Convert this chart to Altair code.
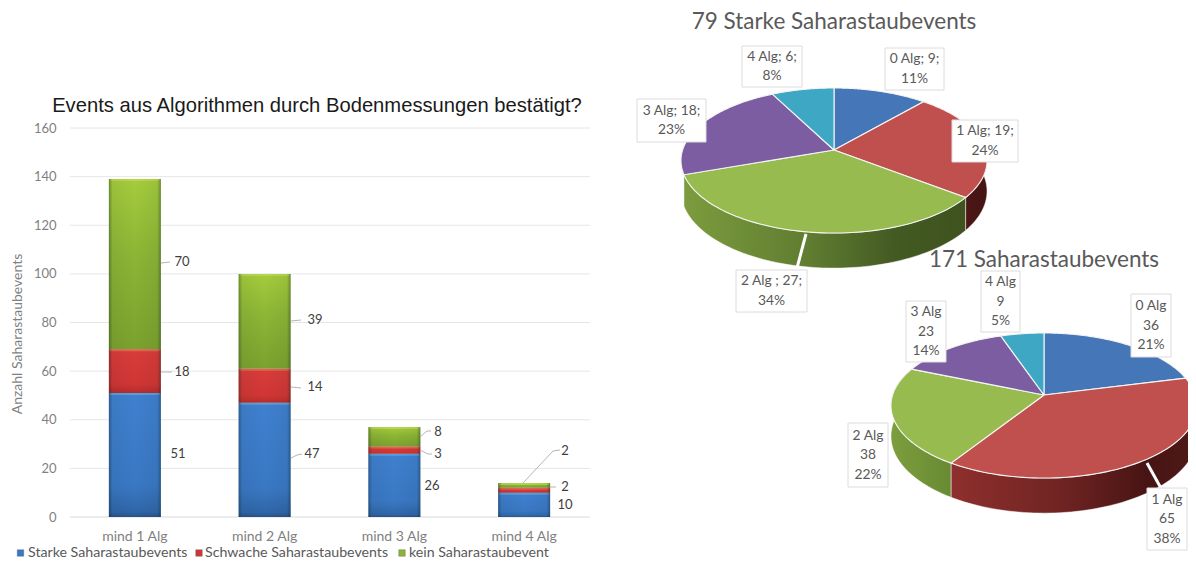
import altair as alt
import numpy as np
import pandas as pd

# ---- values ----
bar_categories = ["mind 1 Alg", "mind 2 Alg", "mind 3 Alg", "mind 4 Alg"]
strong = [51, 47, 26, 10]
weak = [18, 14, 3, 2]
none_ = [70, 39, 8, 2]
series_names = ["Starke Saharastaubevents", "Schwache Saharastaubevents", "kein Saharastaubevent"]
y_ticks = [0, 20, 40, 60, 80, 100, 120, 140, 160]

pie1_values = [9, 19, 27, 18, 6]
pie1_labels = ["0 Alg; 9;\n11%", "1 Alg; 19;\n24%", "2 Alg ; 27;\n34%", "3 Alg; 18;\n23%", "4 Alg; 6;\n8%"]
pie2_values = [36, 65, 38, 23, 9]
pie2_labels = ["0 Alg\n36\n21%", "1 Alg\n65\n38%", "2 Alg\n38\n22%", "3 Alg\n23\n14%", "4 Alg\n9\n5%"]

main_title = "Events aus Algorithmen durch Bodenmessungen bestätigt?"
pie1_title = "79 Starke Saharastaubevents"
pie2_title = "171 Saharastaubevents"
y_title = "Anzahl Saharastaubevents"

# ---- layout and style ----
W, H = 1180, 554
FONT = "Lato"
GREY = "#595959"
LINE_H = 19.5
PX = alt.Scale(domain=[8, 8 + W], range=[0, W], zero=False, nice=False)
PY = alt.Scale(domain=[8, 8 + H], range=[0, H], zero=False, nice=False)
BAND = alt.Scale(domain=bar_categories, range=[62, 581], paddingInner=0.6, paddingOuter=0.3)
VAL = alt.Scale(domain=[0, 160], range=[509, 120], nice=False)


def vgrad(*stops):
    return {"gradient": "linear", "x1": 0, "x2": 0, "y1": 0, "y2": 1,
            "stops": [{"offset": o, "color": c} for o, c in stops]}


def hgrad(*stops):
    return {"gradient": "linear", "x1": 0, "x2": 1, "y1": 0, "y2": 0,
            "stops": [{"offset": o, "color": c} for o, c in stops]}


def px_enc():
    return dict(x=alt.X("x:Q", scale=PX, axis=None), y=alt.Y("y:Q", scale=PY, axis=None))


layers = []

# ---- grid ----
layers.append(
    alt.Chart(pd.DataFrame({"v": y_ticks[1:]})).mark_rule(color="#e6e6e6", strokeWidth=1).encode(
        x=alt.value(62), x2=alt.value(582),
        y=alt.Y("v:Q", scale=VAL, axis=alt.Axis(
            values=y_ticks, orient="left", offset=-48, labelPadding=0, domain=False, ticks=False,
            grid=False, title=None, labelFont=FONT, labelFontSize=13, labelColor="#7f7f7f")),
    )
)
layers.append(
    alt.Chart(pd.DataFrame({"v": [0]})).mark_rule(color="#d9d9d9", strokeWidth=1).encode(
        x=alt.value(62), x2=alt.value(582),
        y=alt.Y("v:Q", scale=VAL, axis=None),
    )
)

# ---- bars ----
base = [0, 0, 0, 0]
bar_fills = [
    vgrad((0, "#3f80cf"), (0.75, "#3a78c4"), (0.96, "#2f66a8"), (1, "#26528a")),
    vgrad((0, "#d93c3a"), (0.8, "#d03634"), (1, "#b52c2b")),
    vgrad((0, "#a5cc3c"), (0.45, "#8db535"), (1, "#7ba22e")),
]
strips = ["#62ace8", "#ee7060", "#bedd55"]
x_axis = alt.Axis(orient="bottom", offset=-(H - 521), labelPadding=0, domain=False, ticks=False,
                  title=None, labelAngle=0, labelFont=FONT, labelFontSize=14,
                  labelFontWeight="normal", labelColor="#7f7f7f", grid=False)
for n, (vals, fill, strip) in enumerate(zip([strong, weak, none_], bar_fills, strips)):
    top = [b + v for b, v in zip(base, vals)]
    df = pd.DataFrame({"cat": bar_categories, "b": base, "t": top})
    layers.append(alt.Chart(df).mark_bar(fill=fill, size=52).encode(
        x=alt.X("cat:N", scale=BAND, sort=bar_categories, axis=x_axis if n == 0 else None),
        y=alt.Y("b:Q", scale=VAL, axis=None), y2="t:Q"))
    layers.append(alt.Chart(df).mark_tick(color=strip, size=50, thickness=2, yOffset=1).encode(
        x=alt.X("cat:N", scale=BAND, sort=bar_categories, axis=None),
        y=alt.Y("t:Q", scale=VAL, axis=None)))
    base = top
overlay = pd.DataFrame({"cat": bar_categories, "b": [0, 0, 0, 0], "t": base})
layers.append(alt.Chart(overlay).mark_bar(
    size=52,
    fill=hgrad((0, "rgba(10,30,30,0.38)"), (0.07, "rgba(10,30,30,0.06)"), (0.5, "rgba(10,30,30,0)"),
               (0.93, "rgba(10,30,30,0.06)"), (1, "rgba(10,30,30,0.38)"))).encode(
    x=alt.X("cat:N", scale=BAND, sort=bar_categories, axis=None),
    y=alt.Y("b:Q", scale=VAL, axis=None), y2="t:Q"))

# ---- bar value labels ----
label_text = [51, 18, 70, 47, 14, 39, 26, 3, 8, 10, 2, 2]
label_x = [178, 182, 182, 312, 315, 315, 432, 438, 438, 565, 565, 565]
label_y = [454, 372, 262, 454, 387, 320, 486, 454, 432, 505, 487, 451]
layers.append(alt.Chart(pd.DataFrame({"x": label_x, "y": label_y, "t": label_text})).mark_text(
    font=FONT, fontSize=13, color="#404040").encode(text="t:N", **px_enc()))

leaders = [
    [(161, 263), (170, 262)], [(161, 372), (172, 372)], [(291, 321), (301, 320)],
    [(291, 387), (301, 388)], [(291, 458), (297, 455), (302, 454)],
    [(420, 437), (427, 431), (431, 431)], [(420, 450), (428, 454), (432, 454)],
    [(523, 483), (553, 451), (560, 450)], [(550, 487), (556, 487)],
]
rows = [{"x": p[0], "y": p[1], "g": i, "o": j} for i, l in enumerate(leaders) for j, p in enumerate(l)]
layers.append(alt.Chart(pd.DataFrame(rows)).mark_line(color="#b5b5b5", strokeWidth=1).encode(
    detail="g:N", order="o:Q", **px_enc()))


# ---- tilted pies ----
def project(cx, cy, theta):
    u, v = np.sin(theta), np.cos(theta)
    p, R, S = 0.145, 151.4, 71.0
    d = 1 + p * v
    return cx + R * u / d, cy - S * v / d, 30.0 / d


def polygon(xs, ys):
    return pd.DataFrame({"x": xs, "y": ys, "i": range(len(xs))})


def pie_layers(values, cx, cy, top_cols, rim_grads):
    total = sum(values)
    edges = 2 * np.pi * np.cumsum([0] + list(values)) / total
    rims, tops = [], []
    for k in range(len(values)):
        th = np.linspace(edges[k], edges[k + 1], 80)
        x, y, dep = project(cx, cy, th)
        if rim_grads[k] is not None:
            rx = list(x) + list(x[::-1]) + [x[0]]
            ry = list(y) + list((y + dep)[::-1]) + [y[0]]
            rims.append(alt.Chart(polygon(rx, ry)).mark_line(
                fill=rim_grads[k], stroke="#ffffff", strokeWidth=0.5).encode(order="i:Q", **px_enc()))
        tx = [cx] + list(x) + [cx]
        ty = [cy] + list(y) + [cy]
        tops.append(alt.Chart(polygon(tx, ty)).mark_line(
            fill=top_cols[k], stroke="#f4f4f4", strokeWidth=1.1).encode(order="i:Q", **px_enc()))
    return rims + tops


TOPS = ["#4577b8", "#c0504d", "#98bb50", "#7c5da2", "#3ea8c4"]
rims1 = [None,
         hgrad((0, "#5a1e1c"), (1, "#451413")),
         hgrad((0, "#7c9c3e"), (0.45, "#5f7c30"), (0.75, "#435a22"), (1, "#3f521f")),
         None,
         None]
rims2 = [None,
         hgrad((0, "#8e2f2d"), (0.45, "#6f2422"), (0.8, "#471413"), (1, "#4f1a18")),
         hgrad((0, "#7d9e3d"), (1, "#688a32")),
         None,
         None]

layers += pie_layers(pie1_values, 834, 150, TOPS, rims1)

# white leader gaps cut through the rims
gap_rows = [{"x": 806, "y": 234, "g": 0, "o": 0}, {"x": 797, "y": 268, "g": 0, "o": 1},
            {"x": 1147, "y": 463, "g": 1, "o": 0}, {"x": 1162, "y": 490, "g": 1, "o": 1}]

layers += pie_layers(pie2_values, 1044, 395, TOPS, rims2)
layers.append(alt.Chart(pd.DataFrame(gap_rows)).mark_line(color="#ffffff", strokeWidth=3).encode(
    detail="g:N", order="o:Q", **px_enc()))

# ---- label boxes ----
box_labels = pie1_labels + pie2_labels
box_x1 = [885, 952, 736, 637, 742, 1131, 1147, 848, 906, 981]
box_x2 = [944, 1018, 807, 706, 802, 1171, 1187, 888, 946, 1020]
box_y1 = [48, 120, 270, 99, 46, 294, 488, 423, 301, 271]
box_y2 = [90, 162, 312, 142, 87, 357, 550, 487, 362, 332]
boxes = pd.DataFrame({"x": box_x1, "x2": box_x2, "y": box_y1, "y2": box_y2, "t": box_labels})
boxes["cx"] = (boxes.x + boxes.x2) / 2
boxes["cy"] = (boxes.y + boxes.y2) / 2 - boxes.t.str.count("\n") * LINE_H / 2
layers.append(alt.Chart(boxes).mark_rect(fill="#ffffff", stroke="#dcdcdc", strokeWidth=1).encode(
    x=alt.X("x:Q", scale=PX, axis=None), x2="x2:Q",
    y=alt.Y("y:Q", scale=PY, axis=None), y2="y2:Q"))
layers.append(alt.Chart(boxes).mark_text(
    font=FONT, fontSize=13.8, color=GREY, lineBreak="\n", lineHeight=LINE_H, baseline="middle").encode(
    x=alt.X("cx:Q", scale=PX, axis=None), y=alt.Y("cy:Q", scale=PY, axis=None), text="t:N"))

# ---- titles and texts ----
titles = pd.DataFrame({"x": [317, 834, 1044], "y": [106, 21.5, 260], "t": [main_title, pie1_title, pie2_title]})
layers.append(alt.Chart(titles.iloc[[0]]).mark_text(
    font="Liberation Sans", fontSize=20.2, color="#1a1a1a").encode(text="t:N", **px_enc()))
layers.append(alt.Chart(titles.iloc[1:]).mark_text(
    font=FONT, fontSize=22.5, color=GREY).encode(text="t:N", **px_enc()))
layers.append(alt.Chart(pd.DataFrame({"x": [18], "y": [334], "t": [y_title]})).mark_text(
    font=FONT, fontSize=14, color="#7f7f7f", angle=270).encode(text="t:N", **px_enc()))

# ---- legend ----
legend_colors = ["#3a78c4", "#d03634", "#8db535"]
legend = pd.DataFrame({"x": [28, 205, 409], "sx": [20.5, 199, 402], "y": [553, 553, 553],
                       "t": series_names, "c": legend_colors})
layers.append(alt.Chart(legend).mark_square(size=42, opacity=1).encode(
    x=alt.X("sx:Q", scale=PX, axis=None), y=alt.Y("y:Q", scale=PY, axis=None),
    fill=alt.Fill("c:N", scale=None), stroke=alt.value("#55606a"), strokeWidth=alt.value(0.4)))
layers.append(alt.Chart(legend).mark_text(
    font=FONT, fontSize=14.2, color=GREY, align="left").encode(text="t:N", **px_enc()))

chart = alt.layer(*layers).resolve_scale(x="independent", y="independent").resolve_axis(
    x="independent", y="independent"
).properties(
    width=W, height=H, padding=0, background="#ffffff",
    autosize=alt.AutoSizeParams(type="none"),
).configure_view(stroke=None)

chart.save("out.html", embed_options={"renderer": "svg", "actions": False})
